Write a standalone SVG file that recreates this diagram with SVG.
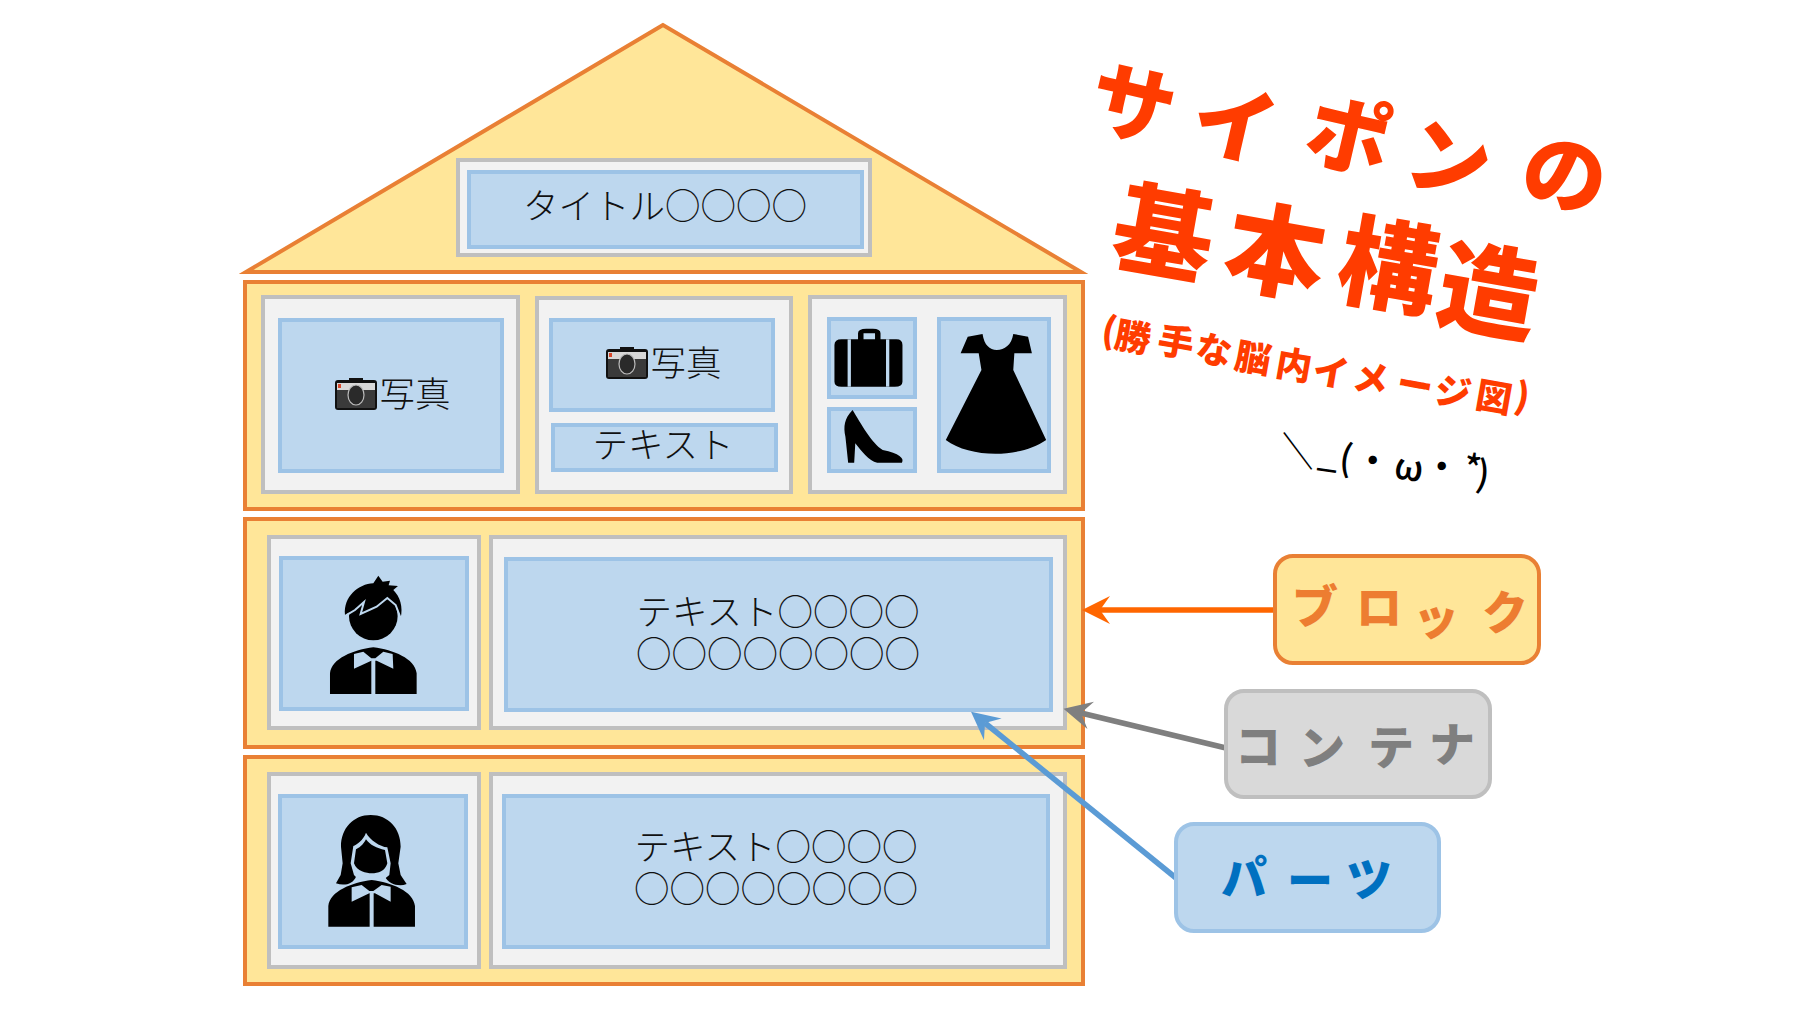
<svg xmlns="http://www.w3.org/2000/svg" width="1798" height="1011" viewBox="0 0 1798 1011">
<style>
.t{font-family:"Noto Sans CJK JP","Noto Sans",sans-serif}
.b{fill:#ffe699;stroke:#e98034;stroke-width:4}
.c{fill:#f2f2f2;stroke:#bfbfbf;stroke-width:4}
.p{fill:#bdd7ee;stroke:#9dc3e6;stroke-width:4}
.m{font-size:35.5px;font-weight:300;fill:#111;text-anchor:middle}
.h{font-weight:900;stroke-linejoin:round}
.ic{fill:#000}
.gap{fill:#bdd7ee}
.ln{fill:none;stroke-width:5.5}
</style>
<defs>
<marker id="aO" markerUnits="userSpaceOnUse" markerWidth="30" markerHeight="30" refX="10" refY="14" orient="auto"><path d="M0,0L28,14L0,28L10,14Z" fill="#ff6600"/></marker>
<marker id="aG" markerUnits="userSpaceOnUse" markerWidth="30" markerHeight="30" refX="10" refY="14" orient="auto"><path d="M0,0L28,14L0,28L10,14Z" fill="#7f7f7f"/></marker>
<marker id="aB" markerUnits="userSpaceOnUse" markerWidth="30" markerHeight="30" refX="10" refY="14" orient="auto"><path d="M0,0L28,14L0,28L10,14Z" fill="#5b9bd5"/></marker>
<g id="cam">
<rect x="0" y="0" width="42" height="30" rx="3" fill="#111"/>
<rect x="14" y="-2" width="14" height="4" fill="#111"/>
<rect x="2" y="3" width="38" height="7" fill="#d8d8d8"/>
<rect x="3" y="4" width="3" height="4" fill="#d9482b"/>
<rect x="2" y="10" width="38" height="18" fill="#3a3a3a"/>
<ellipse cx="21" cy="15" rx="8" ry="10" fill="#2a2a2a" stroke="#bbb" stroke-width="1.2"/>
</g>
<path id="body" d="M0,140V78C5,33 70,8 130,0C190,8 255,33 260,78V140H136V38H124V140Z"/>
</defs>

<g id="roof"><polygon class="b" points="663,25 246,272 1081,272"/></g>
<g id="title"><rect class="c" x="458" y="160" width="412" height="95"/><rect class="p" x="469" y="172" width="393" height="75"/><text class="t m" x="665" y="219">タイトル○○○○</text></g>

<g id="block1">
<rect class="b" x="245" y="282" width="838" height="227"/>
<rect class="c" x="263" y="297" width="255" height="195"/>
<rect class="c" x="537" y="298" width="254" height="194"/>
<rect class="c" x="810" y="297" width="255" height="195"/>
</g>
<g id="part-photo1"><rect class="p" x="280" y="320" width="222" height="151"/><use href="#cam" x="335" y="380"/><text class="t m" x="415" y="407">写真</text></g>
<g id="part-photo2"><rect class="p" x="551" y="320" width="222" height="90"/><use href="#cam" x="606" y="349"/><text class="t m" x="686" y="376">写真</text></g>
<g id="part-text"><rect class="p" x="553" y="425" width="223" height="45"/><text class="t m" x="663" y="458">テキスト</text></g>
<g id="part-bag"><rect class="p" x="829" y="319" width="86" height="78"/>
<g transform="translate(230 270) scale(.5485 .3333)"><path class="ic" fill-rule="evenodd" d="M1102,225Q1102,208 1115,208H1145V190Q1145,176 1160,176H1172Q1186,176 1186,190V208H1215Q1226,208 1226,225V335Q1226,350 1212,350H1115Q1102,350 1102,335ZM1155,190V208H1176V190Z"/><rect class="gap" x="1126" y="208" width="6" height="142"/><rect class="gap" x="1196" y="208" width="6" height="142"/></g></g>
<g id="part-shoe"><rect class="p" x="829" y="409" width="86" height="62"/>
<path class="ic" transform="translate(230 270) scale(.5485 .3333)" d="M1135,420C1120,445 1118,470 1122,500L1127,578H1138L1140,520C1150,540 1165,575 1180,578H1225C1230,565 1220,550 1190,540C1170,520 1150,460 1135,420Z"/></g>
<g id="part-dress"><rect class="p" x="939" y="319" width="110" height="152"/>
<path class="ic" transform="translate(230 270) scale(.5485 .3333)" d="M1345,200L1372,192C1375,225 1385,240 1398,240C1412,240 1425,225 1428,192L1455,200L1462,250H1430L1428,300L1488,510C1440,565 1350,565 1305,510L1370,300L1365,250H1332Z"/></g>

<g id="block2">
<rect class="b" x="245" y="519" width="838" height="228"/>
<rect class="c" x="269" y="537" width="210" height="191"/>
<rect class="c" x="491" y="537" width="574" height="191"/>
</g>
<g id="part-man"><rect class="p" x="281" y="558" width="186" height="151"/>
<g transform="translate(230 510) scale(.3333)"><circle class="ic" cx="430" cy="318" r="73"/>
<path class="ic" d="M345,315C340,260 385,222 430,220L445,197L458,215L480,212L476,226L504,228L490,240C510,260 520,290 512,325L497,285L470,262L440,290L392,315L402,280L370,300Z"/>
<path d="M348,316L375,300L402,276L392,312L440,290L472,264L497,285L512,324" fill="none" stroke="#bdd7ee" stroke-width="6"/>
<use href="#body" x="300" y="412" class="ic"/>
<path class="gap" d="M372,432L400,425L424,445H436L460,425L488,432L490,476L440,452H424L372,476Z"/></g></g>
<g id="part-text2"><rect class="p" x="506" y="559" width="545" height="151"/><text class="t m" x="778" y="625">テキスト○○○○</text><text class="t m" x="778" y="667">○○○○○○○○</text></g>

<g id="block3">
<rect class="b" x="245" y="757" width="838" height="227"/>
<rect class="c" x="269" y="774" width="210" height="193"/>
<rect class="c" x="491" y="774" width="574" height="193"/>
</g>
<g id="part-woman"><rect class="p" x="280" y="796" width="186" height="151"/>
<g transform="translate(230 510) scale(.3333)"><path class="ic" d="M422,915C370,915 333,955 333,1010L338,1060L332,1095L318,1120C345,1130 370,1120 378,1100H465C475,1120 505,1132 530,1122L512,1095L505,1060L512,1010C512,955 475,915 422,915Z"/>
<path class="gap" d="M408,968C400,990 380,1005 370,1008L362,1060L372,1095L395,1118H450L478,1095L482,1060L472,1012C450,1010 420,990 408,968Z"/>
<path class="ic" d="M408,988C400,1005 385,1015 378,1018L372,1060C380,1085 410,1090 425,1090C445,1090 465,1085 472,1060L465,1020C440,1015 420,1005 408,988Z"/>
<use href="#body" x="295" y="1110" class="ic"/>
<path class="gap" d="M365,1132L395,1125L418,1143H430L455,1125L482,1130L482,1175L435,1150H418L365,1175Z"/></g></g>
<g id="part-text3"><rect class="p" x="504" y="796" width="544" height="151"/><text class="t m" x="776" y="860">テキスト○○○○</text><text class="t m" x="776" y="902">○○○○○○○○</text></g>

<g id="connectors">
<line class="ln" x1="1274" y1="610" x2="1100" y2="610" stroke="#ff6600" marker-end="url(#aO)"/>
<line class="ln" x1="1226" y1="748" x2="1081" y2="713" stroke="#7f7f7f" marker-end="url(#aG)"/>
<line class="ln" x1="1176" y1="878" x2="985" y2="723" stroke="#5b9bd5" marker-end="url(#aB)"/>
</g>

<g id="label-block"><rect class="b" x="1275" y="556" width="264" height="107" rx="18"/><text class="t h" font-size="46" fill="#ed7d31" x="1292 1356 1413 1482" y="623 624 634 629">ブロック</text></g>
<g id="label-container"><rect class="c" x="1226" y="691" width="264" height="106" rx="18" style="fill:#d9d9d9"/><text class="t h" font-size="46" fill="#7f7f7f" x="1235 1299 1368 1429" y="763 764 764 761">コンテナ</text></g>
<g id="label-parts"><rect class="p" x="1176" y="824" width="263" height="107" rx="18"/><text class="t h" font-size="46" fill="#0070c0" x="1221 1287 1346" y="894 897 896">パーツ</text></g>

<g id="heading">
<text class="t h" font-size="84" fill="#ff3c00" x="1085 1187 1301 1401 1517" y="125 145 157 180 195" rotate="13">サイポンの</text>
<text class="t h" font-size="100" fill="#ff3c00" x="1108 1220 1333 1433" y="261 279 294 319" rotate="10">基本構造</text>
<text class="t h" font-size="36" fill="#ff3c00" x="1100 1113 1156 1194 1233 1274 1311 1351 1395 1433 1474 1513" y="342 347 352 360 368 375 382 388 395 402 407 408" rotate="10">(勝手な脳内イメージ図)</text>
<text class="t" font-size="36" font-weight="500" fill="#000" x="1278 1317 1338 1353 1393 1422 1462 1475" y="462 465 470 471 478 477 480 486" rotate="8">＼_(・ω・*)</text>
</g>
</svg>
